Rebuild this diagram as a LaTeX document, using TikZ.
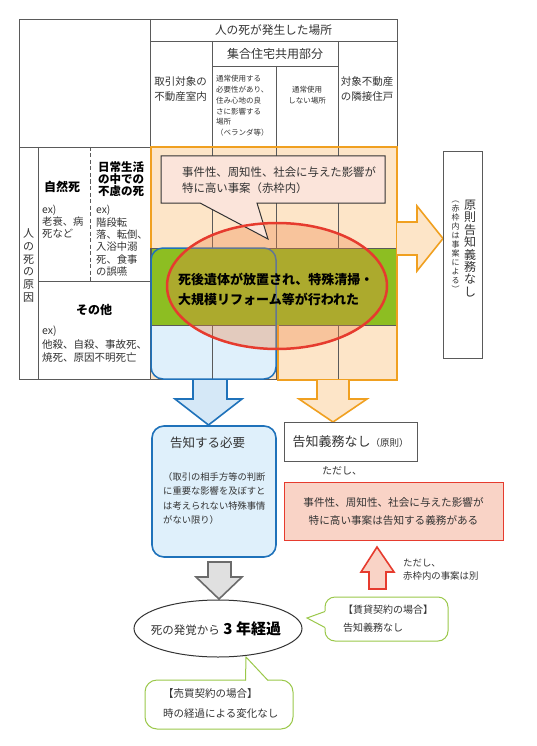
\documentclass[tikz,border=0pt]{standalone}
\usepackage{fontspec}
\setmainfont{Noto Sans CJK JP}
\usetikzlibrary{shapes.geometric}
\definecolor{tablegray}{HTML}{5A5A5A}
\definecolor{textgray}{HTML}{333333}
\definecolor{peach}{HTML}{FDE5C8}
\definecolor{lightblue}{HTML}{DFF0FB}
\definecolor{arrowblue}{HTML}{D5E8F7}
\definecolor{bandgreen}{HTML}{8DBE22}
\definecolor{orangeline}{HTML}{F0A020}
\definecolor{blueline}{HTML}{1F72BA}
\definecolor{redline}{HTML}{E63B2E}
\definecolor{ellipsetint}{HTML}{EE8244}
\definecolor{bubblepink}{HTML}{FBE4DA}
\definecolor{redfill}{HTML}{F9D3C6}
\definecolor{greenline}{HTML}{9BC84A}

\begin{document}
\begin{tikzpicture}[x=1pt, y=-1pt]
\tikzstyle{grid}=[draw=tablegray, line width=0.7pt]
\tikzstyle{cell}=[inner sep=0pt, align=center, text=textgray, font=\fontsize{10.5}{15}\selectfont]
\tikzstyle{small}=[inner sep=0pt, align=left, anchor=west, text=textgray]
\tikzstyle{heading}=[inner sep=0pt, align=center, font=\bfseries\fontsize{12}{11.8}\selectfont]
\tikzstyle{bigarrow}=[line width=1.6pt, line join=miter]
\tikzstyle{callout}=[draw=greenline, line width=1pt, fill=white]
\useasboundingbox (0,0) rectangle (537,746);
\fill[white] (0,0) rectangle (537,746);

% fills under the table lines
\fill[peach] (151,147) rectangle (397,380);
\fill[lightblue, rounded corners=12pt] (151,248) rectangle (276,379);

% table
\draw[grid] (19,19) rectangle (397,379);
\draw[grid] (150,19) -- (150,379);
\draw[grid] (150,41) -- (397,41);
\draw[grid] (212,66) -- (338,66);
\draw[grid] (212,41) -- (212,379);
\draw[grid] (338,41) -- (338,379);
\draw[grid] (276,66) -- (276,379);
\draw[grid] (19,147) -- (397,147);
\draw[grid] (38,147) -- (38,379);
\draw[grid] (38,281) -- (150,281);
\draw[grid, dash pattern=on 4pt off 2.5pt] (90,147) -- (90,281);

\node[cell, font=\fontsize{11.7}{14}\selectfont] (place) at (273.5,30) {人の死が発生した場所};
\node[cell, font=\fontsize{12}{14}\selectfont] (common) at (275,54) {集合住宅共用部分};
\node[cell] (room) at (180.5,89.5) {取引対象の\\不動産室内};
\node[small, font=\fontsize{7.5}{10.8}\selectfont] (balcony) at (216,106) {通常使用する\\必要性があり、\\住み心地の良\\さに影響する\\場所\\（ベランダ等）};
\node[cell, font=\fontsize{7.5}{10.5}\selectfont] (unused) at (307,95) {通常使用\\しない場所};
\node[cell] (next) at (367,89.5) {対象不動産\\の隣接住戸};

\node[cell, font=\fontsize{11}{12.8}\selectfont] (cause) at (28.5,265.5) {人\\の\\死\\の\\原\\因};
\node[heading] (natural) at (62,187) {自然死};
\node[small, font=\fontsize{10.3}{11.7}\selectfont] (naturalex) at (42,221.5) {ex)\\老衰、病\\死など};
\node[heading, font=\bfseries\fontsize{11.5}{11.8}\selectfont] (accident) at (121,179) {日常生活\\の中での\\不慮の死};
\node[small, font=\fontsize{10.3}{12.4}\selectfont] (accidentex) at (96,241) {ex)\\階段転\\落、転倒、\\入浴中溺\\死、食事\\の誤嚥};
\node[heading] (other) at (94,310) {その他};
\node[small, font=\fontsize{10.5}{13.5}\selectfont] (otherex) at (42,344.5) {ex)\\他殺、自殺、事故死、\\焼死、原因不明死亡};

% coloured bands
\draw[fill=bandgreen, draw=tablegray, line width=0.5pt] (151,248) rectangle (397,325);
\draw[blueline, line width=1.5pt, rounded corners=12pt] (151,248) rectangle (276,379);
\draw[orangeline, line width=1.5pt] (151,248) -- (151,147) -- (397,147) -- (397,380) -- (278,380) -- (278,325);

\fill[ellipsetint, fill opacity=0.33] (277,286) ellipse [x radius=110, y radius=63];
\draw[fill=bubblepink, draw=textgray, line width=1pt] (161,156) -- (385,156) -- (385,203) -- (257,203) -- (268,239) -- (200,203) -- (161,203) -- cycle;
\draw[redline, line width=2.5pt] (277,286) ellipse [x radius=110, y radius=63];

\node[small, font=\fontsize{11.4}{16}\selectfont] (serious) at (182,180) {事件性、周知性、社会に与えた影響が\\特に高い事案（赤枠内）};
\node[small, text=black, font=\bfseries\fontsize{13}{20}\selectfont] (left) at (178,289) {死後遺体が放置され、特殊清掃・\\大規模リフォーム等が行われた};

% right side
\draw[bigarrow, orangeline, fill=peach] (397,222) -- (417,222) -- (417,206) -- (443,238.5) -- (417,271) -- (417,255) -- (397,255);
\node[draw=tablegray, line width=1pt, minimum width=39, minimum height=206] (principle) at (462.5,255) {};
\node[cell, font=\fontsize{12}{12.4}\selectfont] (principletext) at (470,248.5) {原\\則\\告\\知\\義\\務\\な\\し};
\node[cell, font=\fontsize{8}{9}\selectfont] (principlenote) at (455.5,247) {︵\\赤\\枠\\内\\は\\事\\案\\に\\よ\\る\\︶};

% lower part
\draw[bigarrow, blueline, fill=arrowblue] (193,380) -- (193,399) -- (175,399) -- (208.5,425) -- (242,399) -- (227,399) -- (227,380);
\draw[bigarrow, orangeline, fill=peach] (317,380) -- (317,399) -- (299,399) -- (333,422) -- (367,399) -- (349,399) -- (349,380);

\node[draw=blueline, fill=lightblue, line width=1.6pt, rounded corners=12pt, minimum width=124, minimum height=131] (need) at (214,491.5) {};
\node[cell, font=\fontsize{12.5}{15}\selectfont] (needtext) at (207.5,443) {告知する必要};
\node[small, font=\fontsize{9.3}{14.4}\selectfont] (needsub) at (163,498.5) {（取引の相手方等の判断\\に重要な影響を及ぼすと\\は考えられない特殊事情\\がない限り）};

\node[draw=tablegray, line width=1pt, minimum width=133, minimum height=39, text=textgray] (noduty) at (350.5,441.5) {{\fontsize{13}{15}\selectfont 告知義務なし}{\fontsize{9.5}{12}\selectfont（原則）}};
\node[small, font=\fontsize{10}{12}\selectfont] (but) at (322,471) {ただし、};
\node[draw=redline, fill=redfill, line width=0.8pt, minimum width=219, minimum height=58, cell, font=\fontsize{10.6}{18}\selectfont] (duty) at (393.5,511) {事件性、周知性、社会に与えた影響が\\特に高い事案は告知する義務がある};

\draw[bigarrow, redline, fill=redfill] (369,589) -- (369,572) -- (361,572) -- (377,547) -- (394,572) -- (386,572) -- (386,589) -- cycle;
\node[small, font=\fontsize{9.4}{13}\selectfont] (except) at (403,569.5) {ただし、\\赤枠内の事案は別};

\draw[bigarrow, draw=tablegray!90, fill=black!12] (208,562) -- (231,562) -- (231,577) -- (242,577) -- (219,599) -- (196,577) -- (208,577) -- cycle;
\node[ellipse, draw=textgray, line width=1pt, fill=white, minimum width=168, minimum height=57, inner sep=0pt] (elapsed) at (218,628.5) {};
\node[cell] (elapsedtext) at (216,628.5) {{\fontsize{11.5}{13}\selectfont 死の発覚から}\hspace{3.5pt}{\fontsize{15}{18}\selectfont\bfseries\color{black}3 年経過}};

% callouts
\draw[callout, rounded corners=10pt] (325,597) rectangle (448,641);
\fill[white] (326,611) -- (307,618) -- (326,628) -- cycle;
\draw[greenline, line width=1pt] (325,611.5) -- (307,618) -- (325,627.5);
\node[small, font=\fontsize{10}{18}\selectfont] (lease) at (343,619) {【賃貸契約の場合】\\告知義務なし};

\draw[callout, rounded corners=12pt] (145,680) rectangle (293,729);
\fill[white] (245.5,681) -- (246,657) -- (268,681) -- cycle;
\draw[greenline, line width=1pt] (245.5,680.5) -- (246,657) -- (268,680.5);
\node[small, font=\fontsize{10.5}{20}\selectfont] (sale) at (163,703) {【売買契約の場合】\\時の経過による変化なし};
\end{tikzpicture}
\end{document}
